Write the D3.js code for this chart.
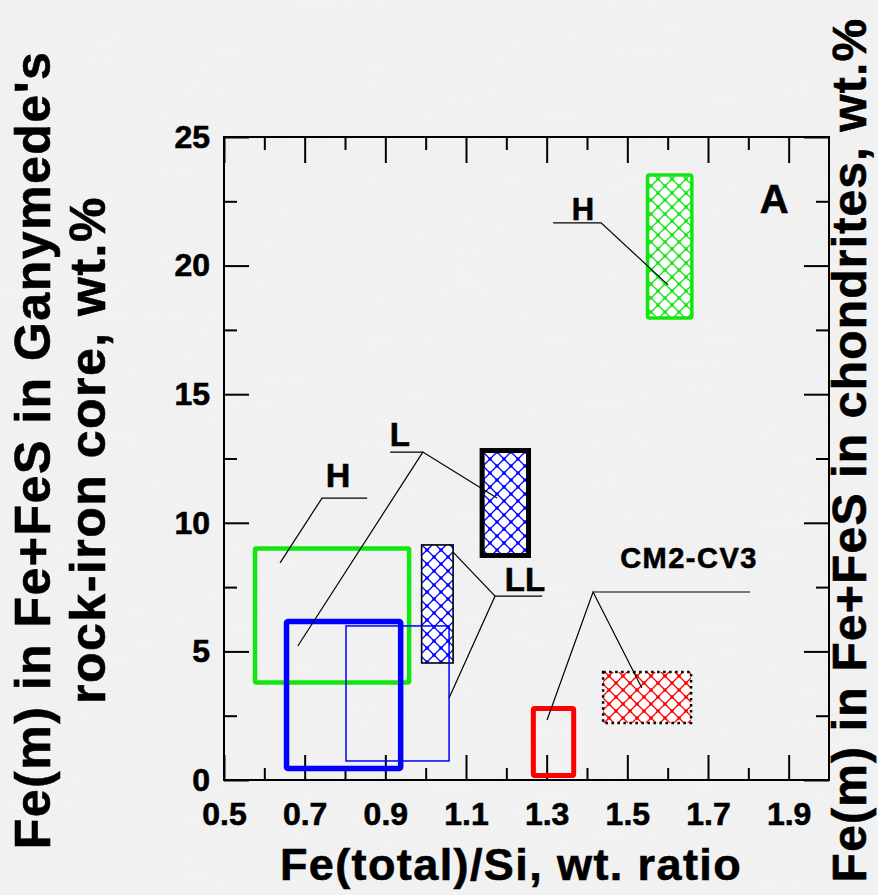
<!DOCTYPE html>
<html>
<head>
<meta charset="utf-8">
<script src="https://cdn.jsdelivr.net/npm/d3@7"></script>
<style>
  html, body { margin: 0; padding: 0; background: #efefef; }
  svg { display: block; }
  text { font-family: "Liberation Sans", Arial, Helvetica, sans-serif; font-weight: bold; fill: #000;
         stroke: #000; stroke-width: 0.6px; }
</style>
</head>
<body>
<svg id="chart" width="878" height="895"></svg>
<script>
// Axis ranges and ticks
const xDomain = [0.5, 2.0];
const yDomain = [0, 25];
const xTickValues = [0.5, 0.7, 0.9, 1.1, 1.3, 1.5, 1.7, 1.9];
const xMinorTickValues = [0.6, 0.8, 1.0, 1.2, 1.4, 1.6, 1.8];
const yTickValues = [0, 5, 10, 15, 20, 25];
const yMinorTickValues = [2.5, 7.5, 12.5, 17.5, 22.5];

// Chondrite groups: Fe(total)/Si range and Fe(m) in Fe+FeS range (hatched boxes)
const chondriteGroups = ["H", "L", "LL", "CM2-CV3"];
const chondriteFeSi = [[1.55, 1.66], [1.14, 1.255], [0.99, 1.068], [1.44, 1.658]];
const chondriteFeM = [[17.96, 23.52], [8.73, 12.81], [4.55, 9.14], [2.22, 4.2]];

// Ganymede rock-iron core models built from each chondrite group (open boxes)
const coreModels = ["H", "L", "LL", "CM2-CV3"];
const coreFeSi = [[0.577, 0.959], [0.655, 0.938], [0.8025, 1.058], [1.267, 1.367]];
const coreFeM = [[3.79, 9.0], [0.45, 6.16], [0.74, 5.99], [0.175, 2.78]];

// Callout labels with leader lines, in data coordinates
const calloutText = ["H", "H", "L", "LL", "CM2-CV3"];
const calloutAnchor = [[1.39, 21.77], [0.783, 11.39], [0.936, 12.99], [1.246, 7.35], [1.653, 8.24]];
const calloutLines = [
  [[[1.316, 21.66], [1.435, 21.66], [1.601, 19.25]]],
  [[[0.855, 10.96], [0.743, 10.96], [0.639, 8.44]]],
  [[[0.912, 12.75], [0.993, 12.75]], [[0.683, 5.21], [0.993, 12.75], [1.177, 10.96]]],
  [[[1.289, 7.15], [1.172, 7.15]], [[1.068, 8.86], [1.172, 7.15], [1.058, 3.19]]],
  [[[1.804, 7.31], [1.415, 7.31]], [[1.301, 2.33], [1.415, 7.31], [1.536, 3.58]]]
];
const panelLabel = "A";
const panelAnchor = [1.864, 22.05];

const xTitle = "Fe(total)/Si, wt. ratio";
const yTitleLines = ["Fe(m) in Fe+FeS in Ganymede's", "rock-iron core, wt.%"];
const y2Title = "Fe(m) in Fe+FeS in chondrites, wt.%";

// ---- layout ----
const W = 878, H = 895;
const margin = { left: 224, top: 137, right: 49, bottom: 115 };
const plotW = W - margin.left - margin.right;
const plotH = H - margin.top - margin.bottom;

const svg = d3.select("#chart");
const defs = svg.append("defs");

// mottled paper background
const noise = defs.append("filter").attr("id", "paper").attr("x", 0).attr("y", 0).attr("width", 1).attr("height", 1);
noise.append("feTurbulence").attr("type", "fractalNoise").attr("baseFrequency", "0.012 0.09").attr("numOctaves", 3).attr("seed", 7);
noise.append("feColorMatrix").attr("type", "matrix")
  .attr("values", "0 0 0 0 0.9  0 0 0 0 0.9  0 0 0 0 0.9  0 0 0 -0.9 0.55");
svg.append("rect").attr("width", W).attr("height", H).attr("fill", "#f1f1f1");
svg.append("rect").attr("width", W).attr("height", H).attr("filter", "url(#paper)").attr("opacity", 0.6);

const colors = { H: "#11e611", L: "#0000ff", LL: "#0000ff", "CM2-CV3": "#ff0000" };

// diagonal crosshatch with dots at each crossing
const T = 14;
function crosshatch(id, color) {
  const p = defs.append("pattern").attr("id", id)
    .attr("patternUnits", "userSpaceOnUse").attr("width", T).attr("height", T);
  p.append("rect").attr("width", T).attr("height", T).attr("fill", "#ffffff");
  p.append("path").attr("d", `M-3,-3L${T + 3},${T + 3}M${T + 3},-3L-3,${T + 3}`)
    .attr("stroke", color).attr("stroke-width", 1.3).attr("fill", "none");
  [[0, 0], [T, 0], [0, T], [T, T], [T / 2, T / 2]].forEach(([cx, cy]) =>
    p.append("circle").attr("cx", cx).attr("cy", cy).attr("r", 1.8).attr("fill", color));
}
crosshatch("hatch-green", colors.H);
crosshatch("hatch-blue", colors.L);
crosshatch("hatch-red", colors["CM2-CV3"]);

const x = d3.scaleLinear().domain(xDomain).range([0, plotW]);
const y = d3.scaleLinear().domain(yDomain).range([plotH, 0]);

const g = svg.append("g").attr("transform", `translate(${margin.left},${margin.top})`);

// ---- axes (ticks point inward on all four sides) ----
function styleAxis(sel, labels) {
  sel.select(".domain").remove();
  sel.selectAll(".tick line").attr("stroke", "#000").attr("stroke-width", 2);
  if (!labels) sel.selectAll(".tick text").remove();
  else sel.selectAll(".tick text").attr("fill", "#000")
    .style("font-size", "32px").style("font-weight", "bold")
    .style("font-family", "'Liberation Sans', Arial, sans-serif");
}
const fmtX = d3.format(".1f");

g.append("g").attr("transform", `translate(0,${plotH})`)
  .call(d3.axisBottom(x).tickValues(xTickValues).tickSize(-25).tickPadding(22).tickFormat(fmtX))
  .call(s => styleAxis(s, true));
g.append("g").attr("transform", `translate(0,${plotH})`)
  .call(d3.axisBottom(x).tickValues(xMinorTickValues).tickSize(-12))
  .call(s => styleAxis(s, false));
g.append("g")
  .call(d3.axisTop(x).tickValues(xTickValues).tickSize(-26))
  .call(s => styleAxis(s, false));
g.append("g")
  .call(d3.axisTop(x).tickValues(xMinorTickValues).tickSize(-13))
  .call(s => styleAxis(s, false));

g.append("g")
  .call(d3.axisLeft(y).tickValues(yTickValues).tickSize(-25).tickPadding(14).tickFormat(d3.format("d")))
  .call(s => styleAxis(s, true));
g.append("g")
  .call(d3.axisLeft(y).tickValues(yMinorTickValues).tickSize(-13))
  .call(s => styleAxis(s, false));
g.append("g").attr("transform", `translate(${plotW},0)`)
  .call(d3.axisRight(y).tickValues(yTickValues).tickSize(-25))
  .call(s => styleAxis(s, false));
g.append("g").attr("transform", `translate(${plotW},0)`)
  .call(d3.axisRight(y).tickValues(yMinorTickValues).tickSize(-13))
  .call(s => styleAxis(s, false));

// ---- chondrite ranges (hatched) ----
const hatchFill = { H: "url(#hatch-green)", L: "url(#hatch-blue)", LL: "url(#hatch-blue)", "CM2-CV3": "url(#hatch-red)" };
const hatchEdge = {
  H: { stroke: colors.H, width: 3.5, dash: null },
  L: { stroke: "#000", width: 5, dash: null },
  LL: { stroke: "#000", width: 1.6, dash: null },
  "CM2-CV3": { stroke: "#000", width: 2.5, dash: "2.5,3.5" }
};
const chondriteData = chondriteGroups.map((name, i) => ({ name, fs: chondriteFeSi[i], fm: chondriteFeM[i] }));
g.selectAll("rect.chondrite").data(chondriteData).join("rect")
  .attr("class", "chondrite")
  .attr("x", d => x(d.fs[0])).attr("width", d => x(d.fs[1]) - x(d.fs[0]))
  .attr("y", d => y(d.fm[1])).attr("height", d => y(d.fm[0]) - y(d.fm[1]))
  .attr("fill", d => hatchFill[d.name])
  .attr("stroke", d => hatchEdge[d.name].stroke)
  .attr("stroke-width", d => hatchEdge[d.name].width)
  .attr("stroke-dasharray", d => hatchEdge[d.name].dash)
  .attr("rx", d => d.name === "H" ? 2 : 0);

// ---- core models (open boxes) ----
const modelWidth = { H: 4.5, L: 5.5, LL: 1.5, "CM2-CV3": 5 };
const modelData = coreModels.map((name, i) => ({ name, fs: coreFeSi[i], fm: coreFeM[i] }));
g.selectAll("rect.model").data(modelData).join("rect")
  .attr("class", "model")
  .attr("x", d => x(d.fs[0])).attr("width", d => x(d.fs[1]) - x(d.fs[0]))
  .attr("y", d => y(d.fm[1])).attr("height", d => y(d.fm[0]) - y(d.fm[1]))
  .attr("fill", "none")
  .attr("stroke", d => colors[d.name])
  .attr("stroke-width", d => modelWidth[d.name])
  .attr("rx", d => modelWidth[d.name] > 3 ? 1.5 : 0);

// ---- frame ----
g.append("rect").attr("width", plotW).attr("height", plotH)
  .attr("fill", "none").attr("stroke", "#000").attr("stroke-width", 2);

// ---- callouts ----
const line = d3.line().x(d => x(d[0])).y(d => y(d[1]));
const calloutSize = [31, 34, 33, 33, 29];
calloutText.forEach((t, i) => {
  calloutLines[i].forEach(pts => {
    g.append("path").attr("d", line(pts)).attr("fill", "none")
      .attr("stroke", "#000").attr("stroke-width", 1.2);
  });
  g.append("text").attr("x", x(calloutAnchor[i][0])).attr("y", y(calloutAnchor[i][1]))
    .attr("text-anchor", "middle").style("font-size", calloutSize[i] + "px")
    .style("letter-spacing", t.length > 2 ? "1.5px" : "0px")
    .text(t);
});
g.append("text").attr("x", x(panelAnchor[0])).attr("y", y(panelAnchor[1]))
  .attr("text-anchor", "middle").style("font-size", "40px").text(panelLabel);

// ---- axis titles ----
svg.append("text").attr("x", 511).attr("y", 880).attr("text-anchor", "middle")
  .style("font-size", "45px").style("letter-spacing", "1.4px").text(xTitle);

const yTitleBaselines = [50, 105];
yTitleLines.forEach((t, i) => {
  svg.append("text")
    .attr("transform", `translate(${yTitleBaselines[i]},450) rotate(-90)`)
    .attr("text-anchor", "middle").style("font-size", "50px").style("letter-spacing", "1.5px")
    .text(t);
});
svg.append("text")
  .attr("transform", `translate(866,450) rotate(-90)`)
  .attr("text-anchor", "middle").style("font-size", "48px").style("letter-spacing", "1.2px")
  .text(y2Title);
</script>
</body>
</html>
